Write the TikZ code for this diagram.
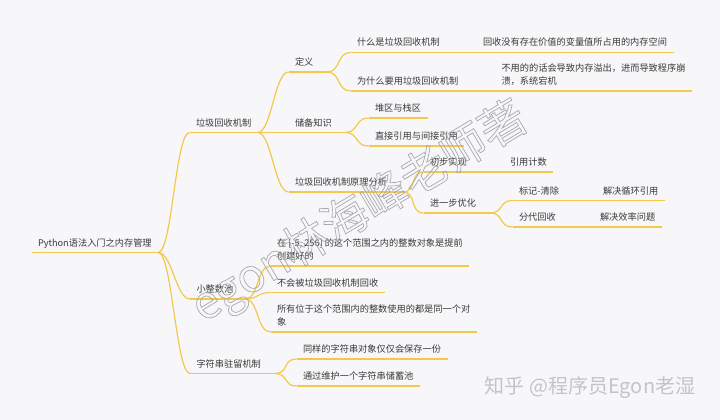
\documentclass[tikz,border=0pt]{standalone}
\usepackage{fontspec}
\newfontfamily\cjk{Noto Sans CJK SC}
\definecolor{bg}{HTML}{F7F7F9}
\definecolor{gold}{HTML}{F4C84A}
\definecolor{ink}{HTML}{3A3A3A}
\definecolor{wm}{HTML}{A9A9AB}
\definecolor{wmlight}{HTML}{C4C4C6}
\newcommand\hollow[1]{\special{pdf:literal direct 1 Tr 0.7 w}#1\special{pdf:literal direct 0 Tr}}

\begin{document}
\begin{tikzpicture}[x=1pt, y=-1pt,
  topic/.style={anchor=south west, inner xsep=6.5pt, inner ysep=5.5pt, outer sep=0pt,
    text depth=1pt, align=left, text=ink, font=\cjk\fontsize{9.2}{13}\selectfont},
  branch/.style={draw=gold, line width=1.2pt}]

\fill[bg] (0,0) rectangle (720,420);

% root and first level
\node[topic] (root) at (31.5,252.5) {Python语法入门之内存管理};
\node[topic] (gc) at (189.5,132.5) {垃圾回收机制};
\node[topic, text width=42pt] (small) at (190,299) {小整数池};
\node[topic, text width=72pt] (str) at (190,373.5) {字符串驻留机制};

% garbage collection
\node[topic, text width=25.5pt] (def) at (288.5,72) {定义};
\node[topic, text width=43.5pt] (know) at (288.5,132.5) {储备知识};
\node[topic, text width=101.5pt] (ana) at (288.5,192) {垃圾回收机制原理分析};
\node[topic] (what) at (350.5,52.5) {什么是垃圾回收机制};
\node[topic] (why) at (350.5,91) {为什么要用垃圾回收机制};
\node[topic] (whatA) at (476.5,52.5) {回收没有存在价值的变量值所占用的内存空间};
\node[topic] (whyA) at (495,91) {不用的的话会导致内存溢出，进而导致程序崩\\溃，系统宕机};
\node[topic] (heap) at (368.5,118) {堆区与栈区};
\node[topic] (ref) at (368.5,146) {直接引用与间接引用};
\node[topic] (first) at (423.5,172) {初步实现};
\node[topic, text width=53.5pt] (further) at (423.5,213) {进一步优化};
\node[topic] (firstA) at (503.5,172) {引用计数};
\node[topic] (mark) at (512.5,200.5) {标记-清除};
\node[topic] (gen) at (512.5,227) {分代回收};
\node[topic] (markA) at (596.5,200.5) {解决循环引用};
\node[topic] (genA) at (593.5,227) {解决效率问题};

% small integers and strings
\node[topic] (s1) at (270.5,266) {在 [-5, 256] 的这个范围之内的整数对象是提前\\创建好的};
\node[topic] (s2) at (270.5,292.5) {不会被垃圾回收机制回收};
\node[topic] (s3) at (270.5,332) {所有位于这个范围内的整数使用的都是同一个对\\象};
\node[topic] (t1) at (296.5,359) {同样的字符串对象仅仅会保存一份};
\node[topic] (t2) at (296.5,386) {通过维护一个字符串储蓄池};

\foreach \n in {root,gc,small,str,def,know,ana,what,why,whatA,whyA,heap,ref,
  first,further,firstA,mark,gen,markA,genA,s1,s2,s3,t1,t2}
\draw[branch] (\n.south west) -- (\n.south east);

\foreach \a/\b in {root/gc,root/small,root/str,gc/def,gc/know,gc/ana,def/what,def/why,
  what/whatA,why/whyA,know/heap,know/ref,ana/first,ana/further,first/firstA,
  further/mark,further/gen,mark/markA,gen/genA,small/s1,small/s2,small/s3,str/t1,str/t2}
\draw[branch] (\a.south east) to[out=0, in=180, distance=14pt] (\b.south west);

% watermarks
\node[rotate=31, text=wm, font=\cjk\fontsize{46}{46}\selectfont] (wmA) at (360,213) {\hollow{egon林海峰老师著}};
\node[text=wmlight, font=\cjk\fontsize{20}{20}\selectfont] (wmB) at (590,388) {知乎 @程序员Egon老湿};

\end{tikzpicture}
\end{document}
